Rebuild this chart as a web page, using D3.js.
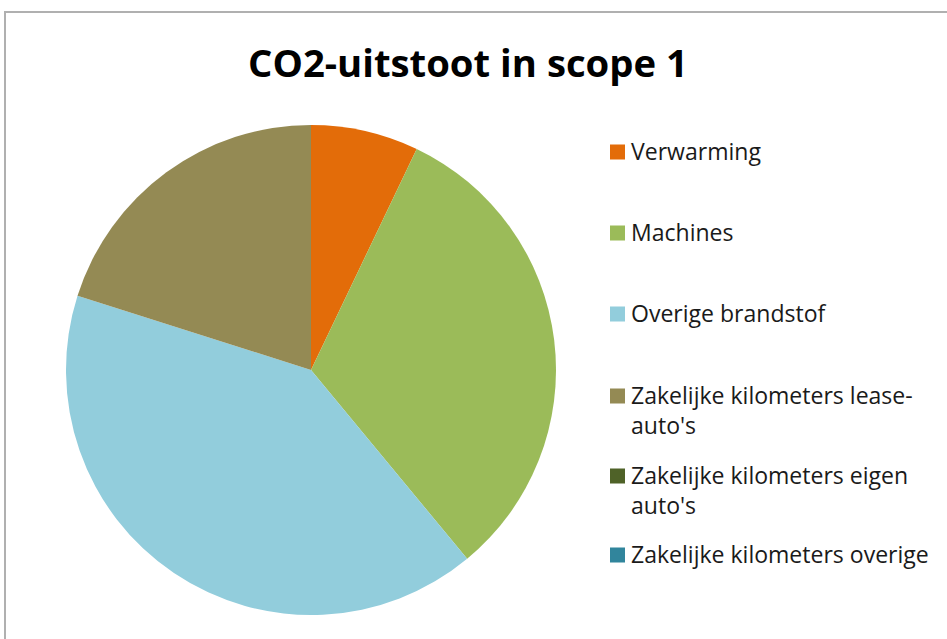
<!DOCTYPE html>
<html>
<head>
<meta charset="utf-8">
<script src="https://cdn.jsdelivr.net/npm/d3@7"></script>
<style>
    body { margin: 0; background: #fff; }
    svg { display: block; }
    text { font-family: "Open Sans", "Noto Sans", sans-serif; fill: #000; }
    #legend text { fill: #1a1a1a; }
</style>
</head>
<body>
<svg id="chart" width="947" height="639"></svg>
<script>
// share of scope 1 emissions (percent)
const categories = [
    "Verwarming",
    "Machines",
    "Overige brandstof",
    "Zakelijke kilometers lease-auto's",
    "Zakelijke kilometers eigen auto's",
    "Zakelijke kilometers overige"
];
const values = [7.1, 31.9, 40.9, 20.1, 0, 0];
const colors = ["#e36c09", "#9bbb59", "#92cddc", "#948a54", "#4f6228", "#31859c"];
// legend text split over lines like the original
const legendLines = [
    ["Verwarming"],
    ["Machines"],
    ["Overige brandstof"],
    ["Zakelijke kilometers lease-", "auto's"],
    ["Zakelijke kilometers eigen", "auto's"],
    ["Zakelijke kilometers overige"]
];
const title = "CO2-uitstoot in scope 1";

const svg = d3.select("#chart");

// frame (only top and left visible)
svg.append("rect")
    .attr("x", 5)
    .attr("y", 12)
    .attr("width", 980)
    .attr("height", 680)
    .attr("fill", "none")
    .attr("stroke", "#b0b0b0")
    .attr("stroke-width", 2);

// title, scaled to fit the original's width
let titleText = svg.append("text")
    .attr("x", 468)
    .attr("y", 77)
    .attr("text-anchor", "middle")
    .style("font-weight", "bold")
    .style("font-size", "40px")
    .text(title);
let tw = titleText.node().getComputedTextLength();
titleText.style("font-size", (40 * 440 / tw) + "px");

// pie
let cx = 311, cy = 370, r = 245;
let pie = d3.pie().sort(null).value(d => d.value);
let arc = d3.arc().innerRadius(0).outerRadius(r);
let data = categories.map((c, i) => ({ name: c, value: values[i], color: colors[i] }));

svg.append("g")
    .attr("transform", `translate(${cx},${cy})`)
    .selectAll("path")
    .data(pie(data))
    .enter()
    .append("path")
        .attr("d", arc)
        .attr("fill", d => d.data.color);

// legend
let rowY = [152, 233, 314, 396, 476, 555],
    lineH = 30;

let legend = svg.append("g").attr("id", "legend");
let items = legend.selectAll("g.item")
    .data(data)
    .enter()
    .append("g")
        .classed("item", true)
        .attr("transform", (d, i) => `translate(610,${rowY[i]})`);

items.append("rect")
    .attr("x", 0)
    .attr("y", -7.5)
    .attr("width", 15)
    .attr("height", 15)
    .attr("fill", d => d.color);

items.each(function(d, i) {
    let g = d3.select(this);
    legendLines[i].forEach((line, j) => {
        g.append("text")
            .attr("x", 21)
            .attr("y", j * lineH + 8)
            .style("font-size", "17px")
            .text(line);
    });
});

// stretch legend font so the longest line matches the original width
let longest = items.filter((d, i) => i === 5).select("text").node().getComputedTextLength();
legend.selectAll("text").style("font-size", (17 * 298 / longest) + "px");
</script>
</body>
</html>
